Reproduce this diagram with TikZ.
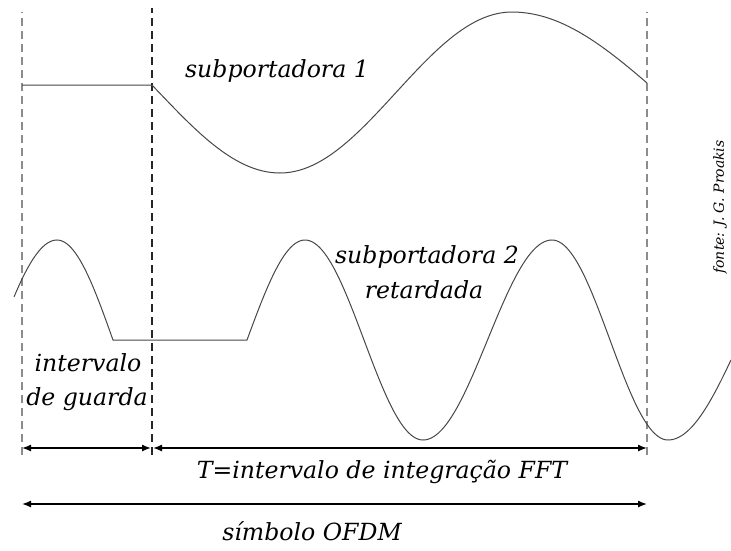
\documentclass[tikz,border=0pt]{standalone}
\usepackage{fontspec}
\setmainfont{DejaVu Serif}
\usetikzlibrary{arrows.meta}
\begin{document}
\begin{tikzpicture}[x=1pt,y=-1pt,
  lbl/.style={font=\fontsize{23.6}{26}\selectfont\itshape, inner sep=0pt},
  guide/.style={dash pattern=on 8pt off 5pt, line width=1.2pt},
  wave/.style={line width=1pt, black!72},
  dim/.style={line width=1.4pt, {Latex[length=9pt,width=7pt]}-{Latex[length=9pt,width=7pt]}}]
\useasboundingbox (0,0) rectangle (731,550);

% guide lines (drawn bottom to top)
\coordinate (gLb) at (22,455);  \coordinate (gLt) at (22,12);
\coordinate (gMb) at (152,455); \coordinate (gMt) at (152,8);
\coordinate (gRb) at (647,455); \coordinate (gRt) at (647,12);
\draw[guide, black!45] (gLb) -- (gLt);
\draw[guide, black!85] (gMb) -- (gMt);
\draw[guide, black!45] (gRb) -- (gRt);

% subcarrier 1
\draw[wave] (22,85) -- (152,85)
  -- plot[domain=174.7:270, samples=30] ({152+(\x-174.7)/(270-174.7)*128}, {92.5-80.5*sin(\x)})
  -- plot[domain=270:450, samples=50] ({280+(\x-270)/180*232}, {92.5-80.5*sin(\x)})
  -- plot[domain=450:533.2, samples=30] ({512+(\x-450)/(533.2-450)*135}, {92.5-80.5*sin(\x)});

% subcarrier 2 (delayed)
\draw[wave]
  plot[domain=25.5:90, samples=20] ({14+(\x-25.5)/64.5*43}, {340-100*sin(\x)})
  -- plot[domain=90:180, samples=25] ({57+(\x-90)/90*56}, {340-100*sin(\x)})
  -- (247,340)
  -- plot[domain=0:90, samples=25] ({247+\x/90*58}, {340-100*sin(\x)})
  -- plot[domain=90:270, samples=50] ({305+(\x-90)/180*118}, {340-100*sin(\x)})
  -- plot[domain=270:450, samples=50] ({423+(\x-270)/180*129}, {340-100*sin(\x)})
  -- plot[domain=450:630, samples=50] ({552+(\x-450)/180*116}, {340-100*sin(\x)})
  -- plot[domain=630:708.5, samples=25] ({668+(\x-630)/78.5*63}, {340-100*sin(\x)});

% labels
\node[lbl] (s1) at (277,71) {subportadora 1};
\node[lbl] (s2) at (427,257) {subportadora 2};
\node[lbl] (s2b) at (424,290) {retardada};
\node[lbl] (g1) at (88,363) {intervalo};
\node[lbl] (g2) at (87,399) {de guarda};
\node[lbl] (tlab) at (382,472) {T=intervalo de integração FFT};
\node[lbl] (olab) at (312,531) {símbolo OFDM};
\node[font=\fontsize{14}{16}\selectfont\itshape, inner sep=0pt, rotate=90] (src) at (720,207) {fonte: J. G. Proakis};

% dimension arrows
\coordinate (a1l) at (22,448);  \coordinate (a1m) at (151,448);
\coordinate (a2m) at (153,448); \coordinate (a2r) at (647,448);
\coordinate (a3l) at (22,504);  \coordinate (a3r) at (647,504);
\draw[dim] (a1l) -- (a1m);
\draw[dim] (a2m) -- (a2r);
\draw[dim] (a3l) -- (a3r);
\end{tikzpicture}
\end{document}
